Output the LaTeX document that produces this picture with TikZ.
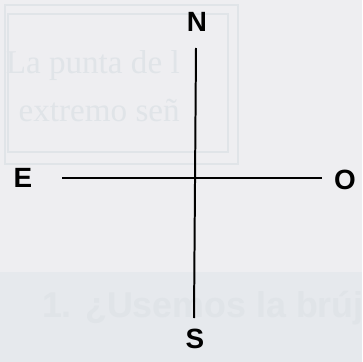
\documentclass[tikz,border=0pt]{standalone}
\usepackage{fontspec}
\setmainfont{Liberation Serif}
\setsansfont{Liberation Sans}
\usetikzlibrary{positioning}
\definecolor{myPaper}{HTML}{EEEEF1}
\definecolor{myBand}{HTML}{E6E9ED}
\definecolor{myGhost}{HTML}{E0E4E8}
\tikzset{
myCardinal/.style={
	font=\sffamily\bfseries\fontsize{21}{24}\selectfont,
	inner sep=0pt, text=black
}
, myAxis/.style={line width=1.5pt,black}
, myGhostBox/.style={draw=myGhost,line width=0.8pt}
, myGhostText/.style={
	font=\rmfamily\fontsize{25}{29}\selectfont,
	text=myGhost, inner sep=0pt, anchor=east
}
}

\begin{document}
\begin{tikzpicture}[x=0.0265cm,y=-0.0265cm]
	% page
	\fill[myPaper] (0,0) rectangle (362,362);
	\useasboundingbox (0,0) rectangle (362,362);
	% show-through from the page
	\fill[myBand] (0,272) rectangle (362,362);
	\draw[myGhostBox] (5,5) rectangle (238,164);
	\draw[myGhostBox] (8,14) rectangle (228,152);
	\node[myGhostText] (GhostA) at (180,66) {La punta de l};
	\node[myGhostText] (GhostB) at (180,110) {extremo señ};
	\node[myGhostText,font=\sffamily\bfseries\fontsize{27}{31}\selectfont] (GhostC) at (364,308) {1. ¿Usemos la brúj};
	% cardinal points
	\node[myCardinal] (North) at (197,22) {N};
	\node[myCardinal] (South) at (195,339) {S};
	\node[myCardinal] (East) at (23,178) {E};
	\node[myCardinal] (West) at (345,180) {O};
	% axes
	\coordinate (NorthEnd) at (196,48);
	\coordinate (SouthEnd) at (194,318);
	\coordinate (EastEnd) at (62,178);
	\coordinate (WestEnd) at (322,178);
	\draw[myAxis] (NorthEnd) -- (SouthEnd);
	\draw[myAxis] (EastEnd) -- (WestEnd);
\end{tikzpicture}
\end{document}
